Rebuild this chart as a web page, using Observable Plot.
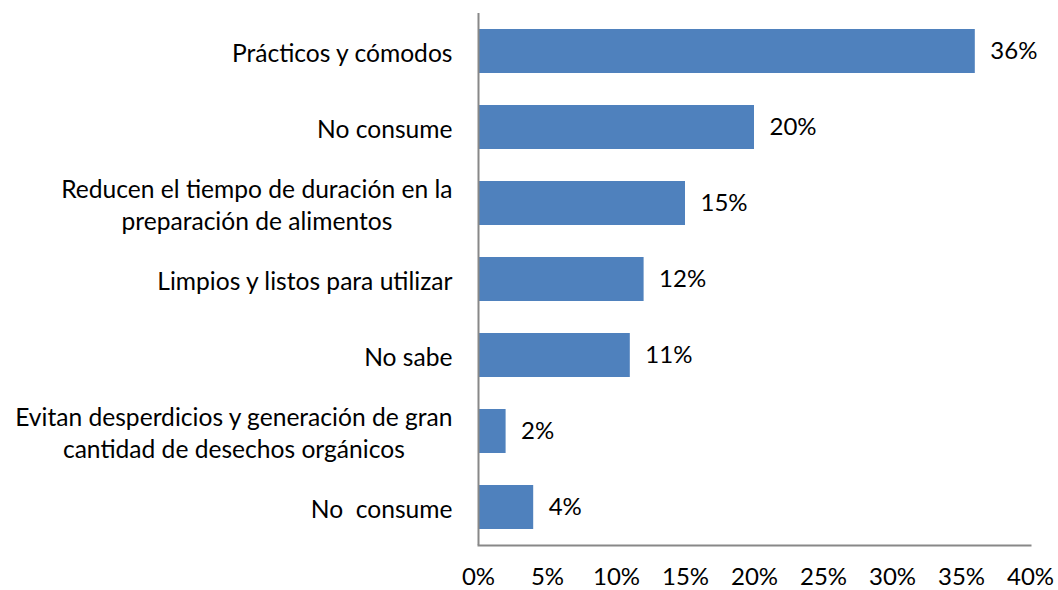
<!DOCTYPE html>
<html><head><meta charset="utf-8">
<script src="https://cdn.jsdelivr.net/npm/d3@7"></script>
<script src="https://cdn.jsdelivr.net/npm/@observablehq/plot@0.6"></script>
<style>
body{margin:0;background:#fff;}
#chart svg{display:block;}
</style>
</head><body><div id="chart"></div>
<script>
const keys = ["a","b","c","d","e","f","g"];
const labels = [
  "Prácticos y cómodos",
  "No consume",
  "Reducen el tiempo de duración en la\npreparación de alimentos",
  "Limpios y listos para utilizar",
  "No sabe",
  "Evitan desperdicios y generación de gran\ncantidad de desechos orgánicos",
  "No  consume"
];
const values = [36, 20, 15, 12, 11, 2, 4];
const ticks = [0, 5, 10, 15, 20, 25, 30, 35, 40];

const data = keys.map((k, i) => ({key: k, label: labels[i], value: values[i]}));
const labelOf = Object.fromEntries(data.map(d => [d.key, d.label]));

const FONT = "Lato, 'Open Sans', sans-serif";
const FS = 24;
const FSY = 24.6;

const chart = Plot.plot({
  width: 1058,
  height: 590,
  marginLeft: 478,
  marginRight: 28,
  marginTop: 13,
  marginBottom: 45,
  style: {fontFamily: FONT, fontSize: FS + "px", color: "#000", background: "#fff"},
  x: {domain: [0, 40], ticks: ticks, tickFormat: d => d + "%", label: null},
  y: {domain: keys, paddingInner: 0.42, paddingOuter: 0.21, label: null},
  marks: [
    Plot.barX(data, {x: "value", y: "key", fill: "#4F81BD"}),
    Plot.text(data, {x: "value", y: "key", text: d => d.value + "%", textAnchor: "start", dx: 15, fontSize: FS, fill: "#000"}),
    Plot.axisX({ticks: ticks, tickFormat: d => d + "%", tickSize: 0, tickPadding: 22, fontSize: FS, fill: "#000", label: null}),
    Plot.axisY({tickSize: 0, tickPadding: 26, tickFormat: k => labelOf[k], fontSize: FSY, fill: "#000", lineHeight: 1.32, label: null}),
    Plot.ruleX([0], {stroke: "#888", strokeWidth: 2}),
    Plot.frame({anchor: "bottom", stroke: "#888", strokeWidth: 2})
  ]
});
document.getElementById("chart").appendChild(chart);

// center multi-line y labels around their widest line (right edge kept)
chart.querySelectorAll("g[aria-label='y-axis tick label'] text").forEach(t => {
  const tspans = t.querySelectorAll("tspan");
  if (tspans.length > 1) {
    const bb = t.getBBox();
    const cx = bb.x + bb.width / 2;
    t.setAttribute("text-anchor", "middle");
    tspans.forEach(s => s.setAttribute("x", cx));
  }
});
</script>
</body></html>
